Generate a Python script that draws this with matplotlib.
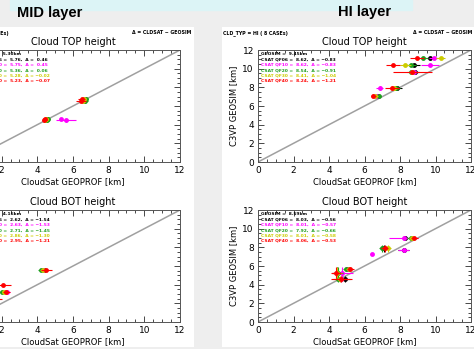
import numpy as np
import matplotlib
matplotlib.use('Agg')
import matplotlib.pyplot as plt

W, H = 474, 349
nan = np.nan

# Quality flags and colours
qf_names = ['CSAT QF06', 'CSAT QF10', 'CSAT QF20', 'CSAT QF30', 'CSAT QF40']
qf_colors = ['black', '#ff00ff', '#1e9e1e', '#cccc00', '#ff0000']

# Summary numbers printed in each panel
mid_top_geo_mean = 5.30
mid_top_csat_mean = [5.76, 5.75, 5.36, 5.28, 5.23]
mid_top_delta = [0.46, 0.45, 0.06, -0.02, -0.07]
mid_bot_geo_mean = 4.16
mid_bot_csat_mean = [2.62, 2.63, 2.71, 2.86, 2.95]
mid_bot_delta = [-1.54, -1.53, -1.45, -1.30, -1.21]
hi_top_geo_mean = 9.45
hi_top_csat_mean = [8.62, 8.62, 8.54, 8.41, 8.24]
hi_top_delta = [-0.83, -0.83, -0.91, -1.04, -1.21]
hi_bot_geo_mean = 8.59
hi_bot_csat_mean = [8.03, 8.01, 7.92, 8.01, 8.06]
hi_bot_delta = [-0.56, -0.57, -0.66, -0.58, -0.53]

# Cases: GEOSIM height (y) and CloudSat height per QF (x), with spreads
mid_top_geo = [4.45, 4.6, 6.55, 6.7]
mid_top_geo_err = [0.15, 0.1, 0.1, 0.1]
mid_top_csat = [[4.50, 5.60, 4.55, 4.45, 4.40],
                [4.55, 5.30, 4.60, 4.50, 4.45],
                [6.60, 6.55, 6.70, 6.55, 6.45],
                [6.65, 6.60, 6.75, 6.60, 6.50]]
mid_top_err = [[0.10, 0.55, 0.10, 0.10, 0.15],
               [0.10, 0.10, 0.10, 0.10, 0.10],
               [0.15, 0.15, 0.15, 0.15, 0.30],
               [0.10, 0.10, 0.10, 0.10, 0.20]]

mid_bot_geo = [5.55, 4.0, 3.2, 2.5]
mid_bot_geo_err = [0.05, 0.05, 0.05, 0.05]
mid_bot_csat = [[4.40, 4.30, 4.20, 4.30, 4.50],
                [1.50, 1.40, 1.60, 1.50, 2.10],
                [1.70, 2.30, 2.00, 2.15, 2.25],
                [1.20, 1.30, 1.10, 1.20, 1.50]]
mid_bot_err = [[0.15, 0.15, 0.15, 0.15, 0.30],
               [0.20, 0.20, 0.20, 0.20, 0.45],
               [0.20, 0.15, 0.15, 0.15, 0.20],
               [0.20, 0.20, 0.20, 0.20, 0.50]]

hi_top_geo = [11.15, 10.4, 9.6, 7.9, 7.1]
hi_top_geo_err = [0.1, 0.15, 0.15, 0.2, 0.15]
hi_top_csat = [[9.70, 9.90, 9.30, 10.30, 8.95],
               [8.80, 9.70, 8.60, 8.30, 7.60],
               [8.85, 8.80, 8.60, 8.70, 8.70],
               [7.85, 6.85, 7.75, 7.65, 7.55],
               [6.75, 6.70, 6.80, 6.60, 6.50]]
hi_top_err = [[0.25, 0.25, 0.25, 0.25, 0.40],
              [0.30, 0.50, 0.30, 0.30, 0.40],
              [0.20, 0.20, 0.20, 0.20, 1.10],
              [0.25, 0.20, 0.25, 0.25, 0.40],
              [0.15, 0.15, 0.15, 0.15, 0.15]]

hi_bot_geo = [9.0, 7.75, 7.9, 7.25, 5.65, 5.3, 4.6]
hi_bot_geo_err = [0.1, 0.2, 0.4, 0.0, 0.1, 0.6, 0.3]
hi_bot_csat = [[8.30, 8.20, 8.60, 8.70, 8.80],
               [8.20, 8.20, nan, nan, nan],
               [7.10, nan, 7.00, 7.30, 7.15],
               [nan, 6.40, nan, nan, nan],
               [5.05, 5.00, 4.95, 5.10, 5.20],
               [4.45, 4.75, 4.50, 4.45, 4.40],
               [4.90, 4.70, 4.50, 4.60, 4.70]]
hi_bot_err = [[0.2, 0.8, 0.2, 0.2, 0.2],
              [0.3, 0.3, 0.0, 0.0, 0.0],
              [0.2, 0.0, 0.2, 0.2, 0.2],
              [0.0, 0.1, 0.0, 0.0, 0.0],
              [0.15, 0.15, 0.15, 0.15, 0.2],
              [0.3, 0.6, 0.3, 0.3, 0.3],
              [0.3, 0.3, 0.3, 0.3, 0.6]]


def rect(x0, y0, x1, y1):
    return [x0 / W, 1 - y1 / H, (x1 - x0) / W, (y1 - y0) / H]


fig = plt.figure(figsize=(W / 100, H / 100), dpi=100, facecolor='#eeeeee')

# cyan strip at the top of the slide
fig.patches.append(plt.Rectangle((10 / W, 1 - 10 / H), 402 / W, 10 / H,
                                 transform=fig.transFigure, color='#dcf4f6', zorder=0))

fig.text(17 / W, 1 - 13 / H, 'MID layer', fontsize=10.5, fontweight='bold',
         family='Liberation Sans', va='center', ha='left')
fig.text(365 / W, 1 - 12 / H, 'HI layer', fontsize=10.5, fontweight='bold',
         family='Liberation Sans', va='center', ha='center')


def white_panel(x0, x1):
    p = fig.add_axes(rect(x0, 27, x1, 347), zorder=0)
    p.set_facecolor('white')
    p.set_xticks([])
    p.set_yticks([])
    for s in p.spines.values():
        s.set_visible(False)
    p.set_xlim(x0, x1)
    p.set_ylim(347, 27)
    return p


left_panel = white_panel(0, 194)
right_panel = white_panel(222, 474)

hdr = dict(fontsize=3.4, fontweight='bold', va='center', clip_on=True)
left_panel.text(9, 33, 'CLD_TYP = MID ( 4 CASEs)', ha='right', **hdr)
left_panel.text(132, 33, 'Δ = CLDSAT − GEOSIM', ha='left', **hdr)
right_panel.text(223, 33, 'CLD_TYP = HI ( 8 CASEs)', ha='left', **hdr)
right_panel.text(413, 33, 'Δ = CLDSAT − GEOSIM', ha='left', **hdr)


def draw_plot(box, title, geo, geo_err, csat, err, geo_mean, csat_mean, delta,
              ylabel, text_shift=0):
    ax = fig.add_axes(rect(*box), zorder=2)
    ax.set_facecolor('white')
    ax.plot([0, 12], [0, 12], color='#a0a0a0', lw=1.1, zorder=1)
    csat = np.array(csat, dtype=float)
    err = np.array(err, dtype=float)
    for i, c in enumerate(qf_colors):
        ax.errorbar(csat[:, i], geo, xerr=err[:, i], yerr=geo_err, fmt='o',
                    color=c, ms=3.5, mew=0, elinewidth=0.8, capsize=0, zorder=3 + i)
    ax.set_xlim(0, 12)
    ax.set_ylim(0, 12)
    ax.set_xticks(range(0, 13, 2))
    ax.set_yticks(range(0, 13, 2))
    ax.set_xticks(np.arange(0, 12.1, 0.5), minor=True)
    ax.set_yticks(np.arange(0, 12.1, 0.5), minor=True)
    ax.tick_params(which='both', direction='in', top=True, right=True,
                   labelsize=6.5, pad=3, width=0.5)
    ax.tick_params(which='major', length=4)
    ax.tick_params(which='minor', length=2)
    for s in ax.spines.values():
        s.set_linewidth(0.7)
        s.set_color('#555555')
    ax.set_title(title, fontsize=7, pad=3.5)
    ax.set_xlabel('CloudSat GEOPROF [km]', fontsize=6, labelpad=1.5)
    if ylabel:
        ax.set_ylabel('C3VP GEOSIM [km]', fontsize=6, labelpad=3)

    # statistics block in the upper left corner
    lh = 5.4 / (box[3] - box[1])
    y0 = 1 - 4 / (box[3] - box[1])
    x0 = (3 + text_shift) / (box[2] - box[0])
    ax.text(x0, y0, f'GEOSIM = {geo_mean:5.2f}km', transform=ax.transAxes,
            fontsize=3.2, fontweight='bold', va='center', color='black')
    for i in range(5):
        s = f'{qf_names[i]} = {csat_mean[i]:5.2f},  Δ = {delta[i]:5.2f}'.replace('-', '−')
        ax.text(x0, y0 - (i + 1) * lh, s, transform=ax.transAxes, fontsize=3.2,
                fontweight='bold', va='center', color=qf_colors[i])
    return ax


draw_plot((-34, 50, 180, 162), 'Cloud TOP height', mid_top_geo, mid_top_geo_err,
          mid_top_csat, mid_top_err, mid_top_geo_mean, mid_top_csat_mean, mid_top_delta,
          False, text_shift=6)
draw_plot((-34, 210, 180, 322), 'Cloud BOT height', mid_bot_geo, mid_bot_geo_err,
          mid_bot_csat, mid_bot_err, mid_bot_geo_mean, mid_bot_csat_mean, mid_bot_delta,
          False, text_shift=6)
draw_plot((258, 50, 471, 162), 'Cloud TOP height', hi_top_geo, hi_top_geo_err,
          hi_top_csat, hi_top_err, hi_top_geo_mean, hi_top_csat_mean, hi_top_delta, True)
draw_plot((258, 210, 471, 322), 'Cloud BOT height', hi_bot_geo, hi_bot_geo_err,
          hi_bot_csat, hi_bot_err, hi_bot_geo_mean, hi_bot_csat_mean, hi_bot_delta, True)

fig.savefig('out.png', dpi=100, facecolor=fig.get_facecolor())
